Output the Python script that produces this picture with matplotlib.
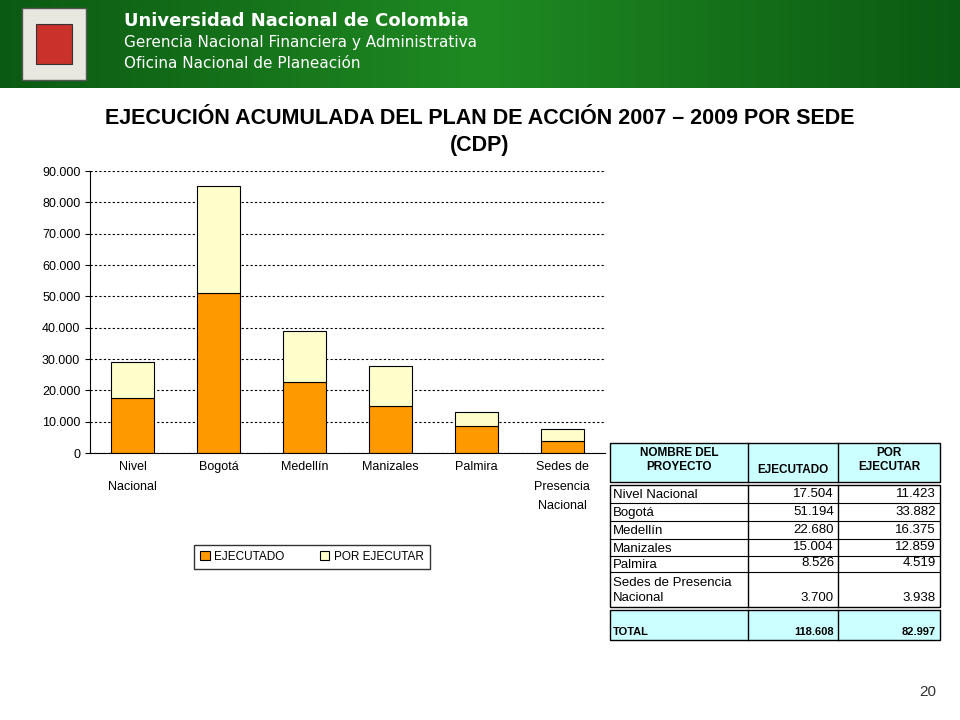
import matplotlib
matplotlib.use("Agg")
import matplotlib.pyplot as plt
import numpy as np
from matplotlib.patches import Rectangle
from matplotlib.colors import LinearSegmentedColormap

categories = ["Nivel\nNacional", "Bogotá", "Medellín", "Manizales", "Palmira", "Sedes de\nPresencia\nNacional"]
ejecutado = [17504, 51194, 22680, 15004, 8526, 3700]
por_ejecutar = [11423, 33882, 16375, 12859, 4519, 3938]
table_names = ["Nivel Nacional", "Bogotá", "Medellín", "Manizales", "Palmira", "Sedes de Presencia\nNacional"]
table_ejec = ["17.504", "51.194", "22.680", "15.004", "8.526", "3.700"]
table_por = ["11.423", "33.882", "16.375", "12.859", "4.519", "3.938"]
yticks = list(range(0, 90001, 10000))

W, H = 960, 720
fig = plt.figure(figsize=(9.6, 7.2), dpi=100)
fig.patch.set_facecolor("white")

def fx(x): return x / W
def fy(y): return 1 - y / H

hdr = fig.add_axes([0, fy(88), 1, 88 / H])
grad = np.linspace(0, 1, 256).reshape(1, -1)
cm = LinearSegmentedColormap.from_list("g", ["#0b5a12", "#1f8a22", "#0b5a12"])
hdr.imshow(grad, aspect="auto", cmap=cm, extent=[0, 1, 0, 1])
hdr.set_xlim(0, 1); hdr.set_ylim(0, 1); hdr.axis("off")
hdr.add_patch(Rectangle((22 / W, 8 / 88), 64 / W, 72 / 88, facecolor="#e8e8e0", edgecolor="#555", lw=1))
hdr.add_patch(Rectangle((36 / W, 24 / 88), 36 / W, 40 / 88, facecolor="#c8322a", edgecolor="#333", lw=0.8))
for txt, y, size, w in [("Universidad Nacional de Colombia", 67, 13, "bold"),
                        ("Gerencia Nacional Financiera y Administrativa", 46, 11, "normal"),
                        ("Oficina Nacional de Planeación", 25, 11, "normal")]:
    hdr.text(124 / W, y / 88, txt, color="white", fontsize=size, fontweight=w, va="center", ha="left")

fig.text(0.5, fy(118), "EJECUCIÓN ACUMULADA DEL PLAN DE ACCIÓN 2007 – 2009 POR SEDE", ha="center", va="center",
         fontsize=15.5, fontweight="bold", family="Liberation Sans")
fig.text(0.5, fy(146), "(CDP)", ha="center", va="center", fontsize=15.5, fontweight="bold", family="Liberation Sans")

ax = fig.add_axes([fx(90), fy(453), (605 - 90) / W, (453 - 171) / H])
x = np.arange(len(categories))
ax.bar(x, ejecutado, 0.5, color="#ff9900", edgecolor="black", lw=0.8, label="EJECUTADO")
ax.bar(x, por_ejecutar, 0.5, bottom=ejecutado, color="#ffffcc", edgecolor="black", lw=0.8, label="POR EJECUTAR")
ax.set_ylim(0, 90000)
ax.set_xlim(-0.5, len(categories) - 0.5)
ax.set_yticks(yticks)
ax.set_yticklabels([f"{v:,}".replace(",", ".") for v in yticks], fontsize=9, family="Liberation Sans")
ax.set_xticks(x)
ax.set_xticklabels(categories, fontsize=9, family="Liberation Sans", linespacing=1.8)
ax.tick_params(axis="x", length=0, pad=6)
ax.yaxis.grid(True, color="black", ls=(0, (2, 2)), lw=0.8)
ax.set_axisbelow(True)
for s in ["top", "right"]:
    ax.spines[s].set_visible(False)
ax.legend(loc="center", bbox_to_anchor=(fx(312), fy(557)), bbox_transform=fig.transFigure, ncol=2,
          fancybox=False, edgecolor="black", prop={"family": "Liberation Sans", "size": 8.5},
          handlelength=0.8, handleheight=0.8, borderpad=0.5, columnspacing=3.0, handletextpad=0.4)

tb = fig.add_axes([0, 0, 1, 1], facecolor="none")
tb.set_xlim(0, W); tb.set_ylim(H, 0); tb.axis("off")
cols = [610, 748, 838, 940]
tb.add_patch(Rectangle((610, 443), 330, 39, facecolor="#ccffff", edgecolor="black", lw=1))
tb.add_patch(Rectangle((610, 610), 330, 30, facecolor="#ccffff", edgecolor="black", lw=1))
tb.add_patch(Rectangle((610, 485), 330, 122, facecolor="white", edgecolor="black", lw=1))
for c in cols[1:-1]:
    tb.plot([c, c], [443, 482], color="black", lw=1)
    tb.plot([c, c], [485, 607], color="black", lw=1)
    tb.plot([c, c], [610, 640], color="black", lw=1)
bounds = [485, 503, 521, 539, 556, 572, 607]
for r in bounds[1:-1]:
    tb.plot([610, 940], [r, r], color="black", lw=0.8)
kw = dict(family="Liberation Sans", fontsize=9.5)
tb.text(679, 460, "NOMBRE DEL\nPROYECTO", ha="center", va="center", fontweight="bold", fontsize=8.5, family="Liberation Sans")
tb.text(793, 470, "EJECUTADO", ha="center", va="center", fontweight="bold", fontsize=8.5, family="Liberation Sans")
tb.text(889, 460, "POR\nEJECUTAR", ha="center", va="center", fontweight="bold", fontsize=8.5, family="Liberation Sans")
for i in range(6):
    top, bot = bounds[i], bounds[i + 1]
    tb.text(613, (top + bot) / 2 + 1, table_names[i], ha="left", va="center", linespacing=1.3, **kw)
    tb.text(834, bot - 3, table_ejec[i], ha="right", va="bottom", **kw)
    tb.text(936, bot - 3, table_por[i], ha="right", va="bottom", **kw)
tb.text(613, 632, "TOTAL", ha="left", va="center", fontweight="bold", fontsize=8, family="Liberation Sans")
tb.text(834, 632, "118.608", ha="right", va="center", fontweight="bold", fontsize=8, family="Liberation Sans")
tb.text(936, 632, "82.997", ha="right", va="center", fontweight="bold", fontsize=8, family="Liberation Sans")

fig.text(fx(928), fy(692), "20", ha="center", va="center", fontsize=11, color="#333", family="Liberation Sans")

fig.savefig("out.png", dpi=100)
